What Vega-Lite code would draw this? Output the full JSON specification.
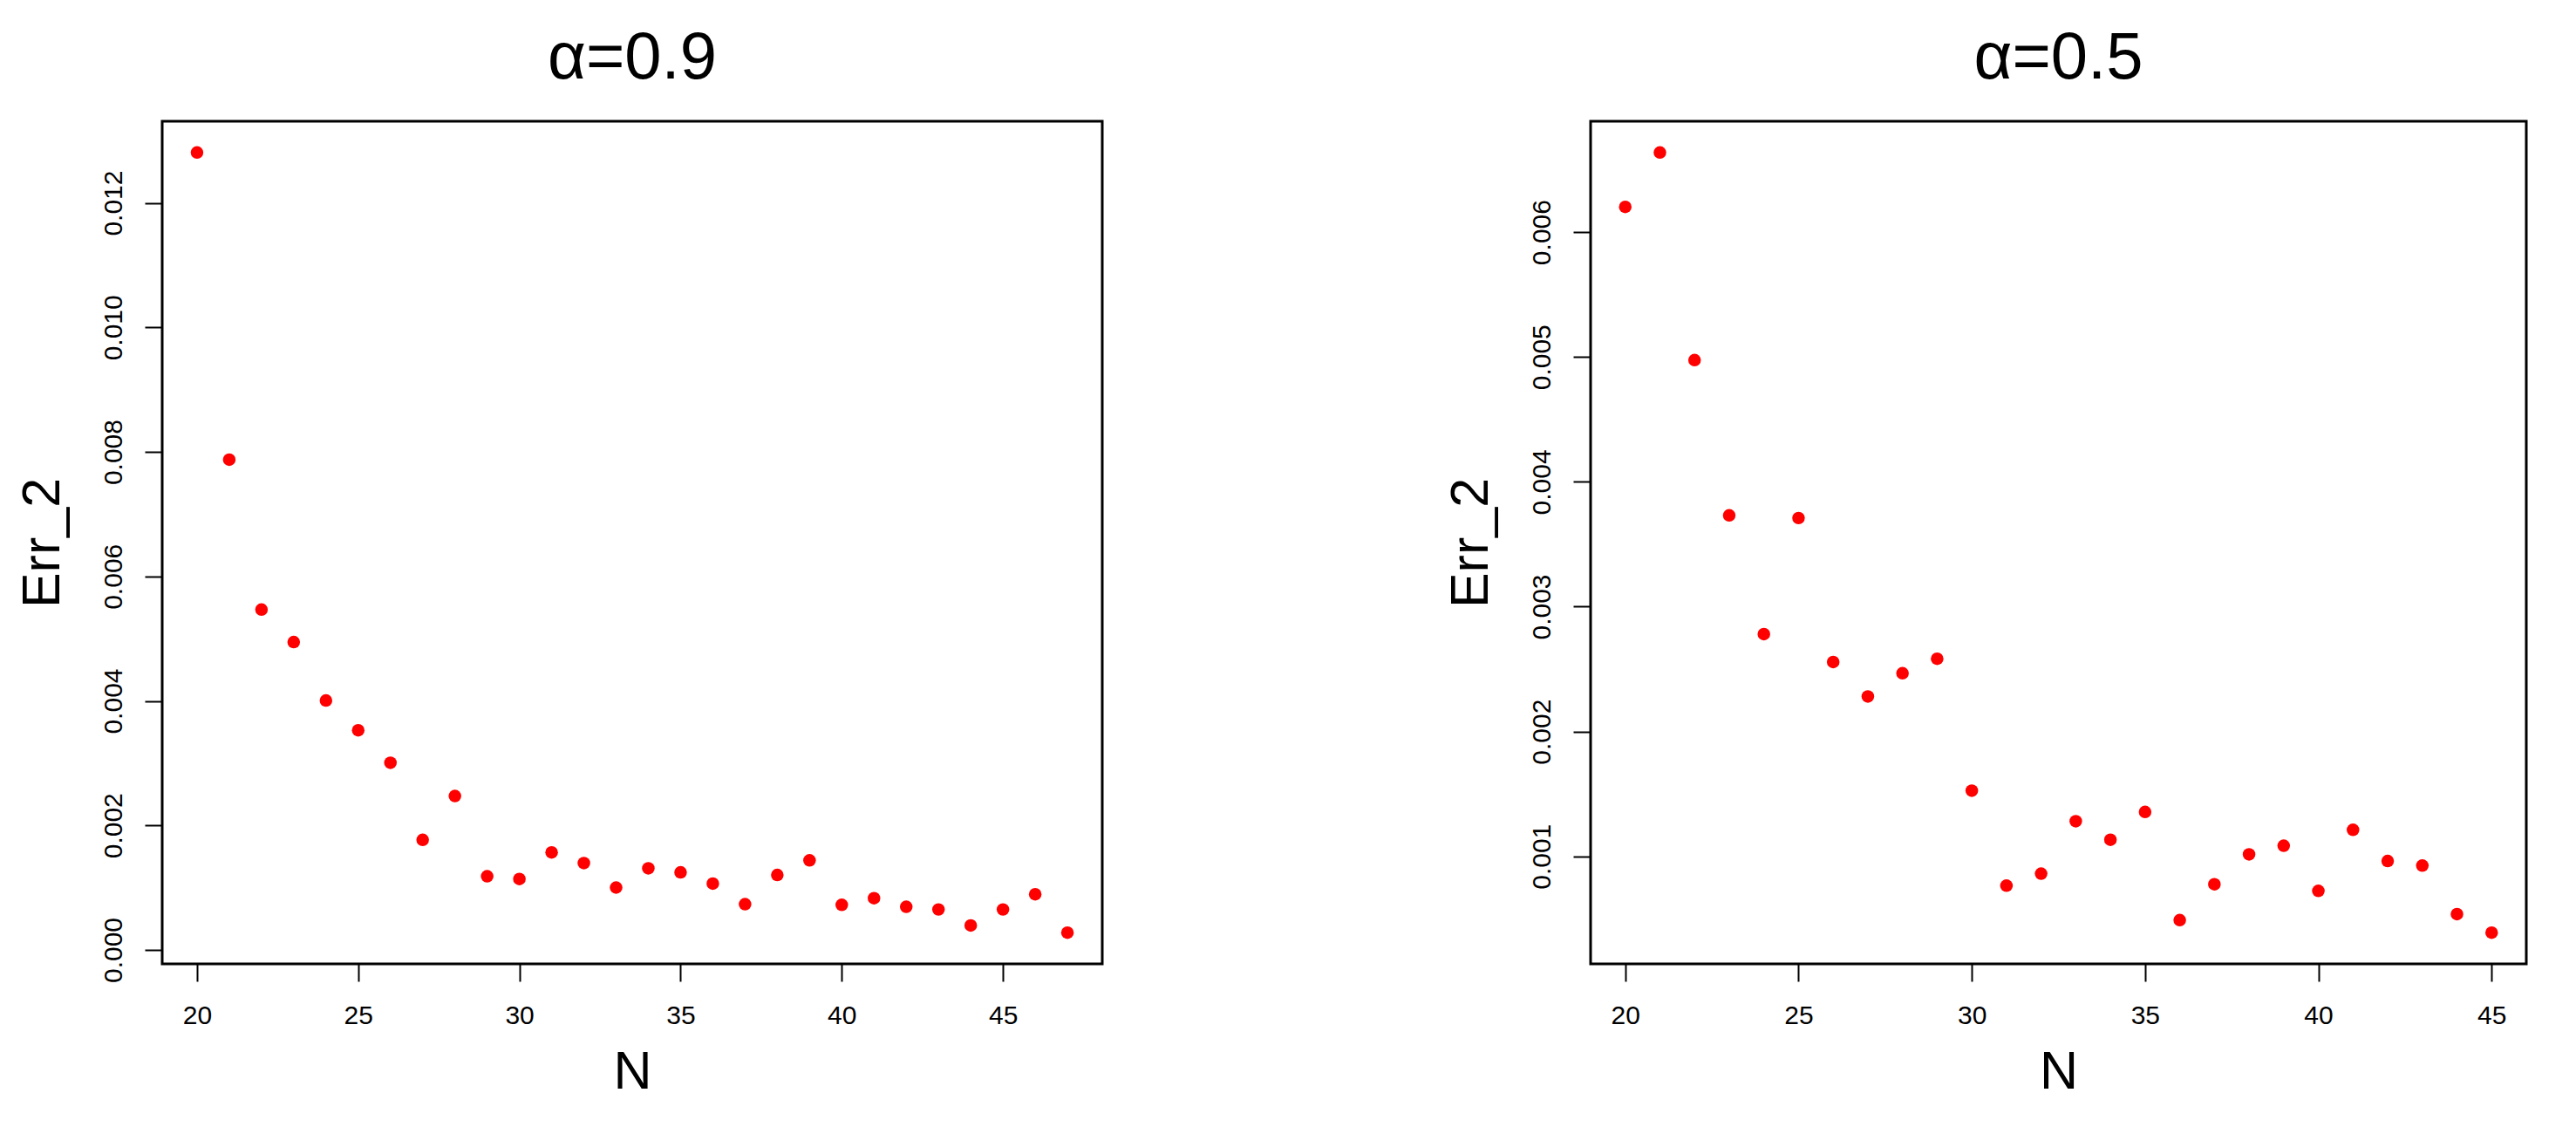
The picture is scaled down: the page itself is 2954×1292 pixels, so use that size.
{
  "$schema": "https://vega.github.io/schema/vega-lite/v6.json",
  "background": "white",
  "padding": {"left": 16, "top": 27, "right": 58, "bottom": 33},
  "bounds": "flush",
  "spacing": 560,
  "datasets": {
    "a09": [
      {"N": 20, "Err_2": 0.01281}, {"N": 21, "Err_2": 0.007876}, {"N": 22, "Err_2": 0.005468},
      {"N": 23, "Err_2": 0.004945}, {"N": 24, "Err_2": 0.004007}, {"N": 25, "Err_2": 0.003528},
      {"N": 26, "Err_2": 0.003006}, {"N": 27, "Err_2": 0.001769}, {"N": 28, "Err_2": 0.002473},
      {"N": 29, "Err_2": 0.001183}, {"N": 30, "Err_2": 0.00114}, {"N": 31, "Err_2": 0.001567},
      {"N": 32, "Err_2": 0.001396}, {"N": 33, "Err_2": 0.001002}, {"N": 34, "Err_2": 0.001311},
      {"N": 35, "Err_2": 0.001247}, {"N": 36, "Err_2": 0.001066}, {"N": 37, "Err_2": 0.000735},
      {"N": 38, "Err_2": 0.001204}, {"N": 39, "Err_2": 0.001439}, {"N": 40, "Err_2": 0.000725},
      {"N": 41, "Err_2": 0.000831}, {"N": 42, "Err_2": 0.000693}, {"N": 43, "Err_2": 0.00065},
      {"N": 44, "Err_2": 0.000394}, {"N": 45, "Err_2": 0.00065}, {"N": 46, "Err_2": 0.000895},
      {"N": 47, "Err_2": 0.000277}
    ],
    "a05": [
      {"N": 20, "Err_2": 0.006202}, {"N": 21, "Err_2": 0.006638}, {"N": 22, "Err_2": 0.004975},
      {"N": 23, "Err_2": 0.003731}, {"N": 24, "Err_2": 0.00278}, {"N": 25, "Err_2": 0.00371},
      {"N": 26, "Err_2": 0.002557}, {"N": 27, "Err_2": 0.002281}, {"N": 28, "Err_2": 0.002467},
      {"N": 29, "Err_2": 0.002583}, {"N": 30, "Err_2": 0.001526}, {"N": 31, "Err_2": 0.000766},
      {"N": 32, "Err_2": 0.000862}, {"N": 33, "Err_2": 0.001282}, {"N": 34, "Err_2": 0.001133},
      {"N": 35, "Err_2": 0.001356}, {"N": 36, "Err_2": 0.00049}, {"N": 37, "Err_2": 0.000777},
      {"N": 38, "Err_2": 0.001016}, {"N": 39, "Err_2": 0.001085}, {"N": 40, "Err_2": 0.000724},
      {"N": 41, "Err_2": 0.001213}, {"N": 42, "Err_2": 0.000963}, {"N": 43, "Err_2": 0.000926},
      {"N": 44, "Err_2": 0.000538}, {"N": 45, "Err_2": 0.000389}
    ]
  },
  "hconcat": [
    {
      "title": {"text": "α=0.9"},
      "width": 1078,
      "height": 966,
      "data": {"name": "a09"},
      "mark": {"type": "point", "filled": true, "shape": "circle", "size": 210, "color": "#FF0000", "opacity": 1},
      "encoding": {
        "x": {
          "field": "N", "type": "quantitative",
          "scale": {"domain": [18.92, 48.08], "nice": false, "zero": false},
          "axis": {"values": [20, 25, 30, 35, 40, 45], "title": "N", "titleX": 539, "titleY": 142}
        },
        "y": {
          "field": "Err_2", "type": "quantitative",
          "scale": {"domain": [-0.000224, 0.013311], "nice": false, "zero": false},
          "axis": {"values": [0, 0.002, 0.004, 0.006, 0.008, 0.01, 0.012], "format": ".3f", "title": "Err_2", "titleX": -119, "titleY": 483}
        }
      }
    },
    {
      "title": {"text": "α=0.5"},
      "width": 1073,
      "height": 966,
      "data": {"name": "a05"},
      "mark": {"type": "point", "filled": true, "shape": "circle", "size": 210, "color": "#FF0000", "opacity": 1},
      "encoding": {
        "x": {
          "field": "N", "type": "quantitative",
          "scale": {"domain": [19, 46], "nice": false, "zero": false},
          "axis": {"values": [20, 25, 30, 35, 40, 45], "title": "N", "titleX": 536.5, "titleY": 142}
        },
        "y": {
          "field": "Err_2", "type": "quantitative",
          "scale": {"domain": [0.000139, 0.006888], "nice": false, "zero": false},
          "axis": {"values": [0.001, 0.002, 0.003, 0.004, 0.005, 0.006], "format": ".3f", "title": "Err_2", "titleX": -119, "titleY": 483}
        }
      }
    }
  ],
  "resolve": {"scale": {"x": "independent", "y": "independent"}},
  "config": {
    "font": "Liberation Sans",
    "view": {"stroke": "#000000", "strokeWidth": 3, "fill": "white"},
    "title": {"font": "Liberation Sans", "fontSize": 76, "fontWeight": "normal", "color": "#000000", "anchor": "middle", "frame": "group", "baseline": "alphabetic", "offset": 33},
    "axis": {
      "grid": false,
      "domain": false,
      "ticks": true,
      "tickSize": 20,
      "tickWidth": 2,
      "tickColor": "#000000",
      "labelFont": "Liberation Sans",
      "labelFontSize": 30,
      "labelColor": "#000000",
      "labelOverlap": false,
      "labelFlush": false,
      "titleFont": "Liberation Sans",
      "titleFontSize": 61,
      "titleFontWeight": "normal",
      "titleColor": "#000000",
      "titleBaseline": "alphabetic",
      "titleAlign": "center"
    },
    "axisX": {"labelAngle": 0, "labelAlign": "center", "labelBaseline": "alphabetic", "labelPadding": 48, "titleAngle": 0},
    "axisY": {"labelAngle": -90, "labelAlign": "center", "labelBaseline": "alphabetic", "labelPadding": 27, "titleAngle": -90}
  }
}
